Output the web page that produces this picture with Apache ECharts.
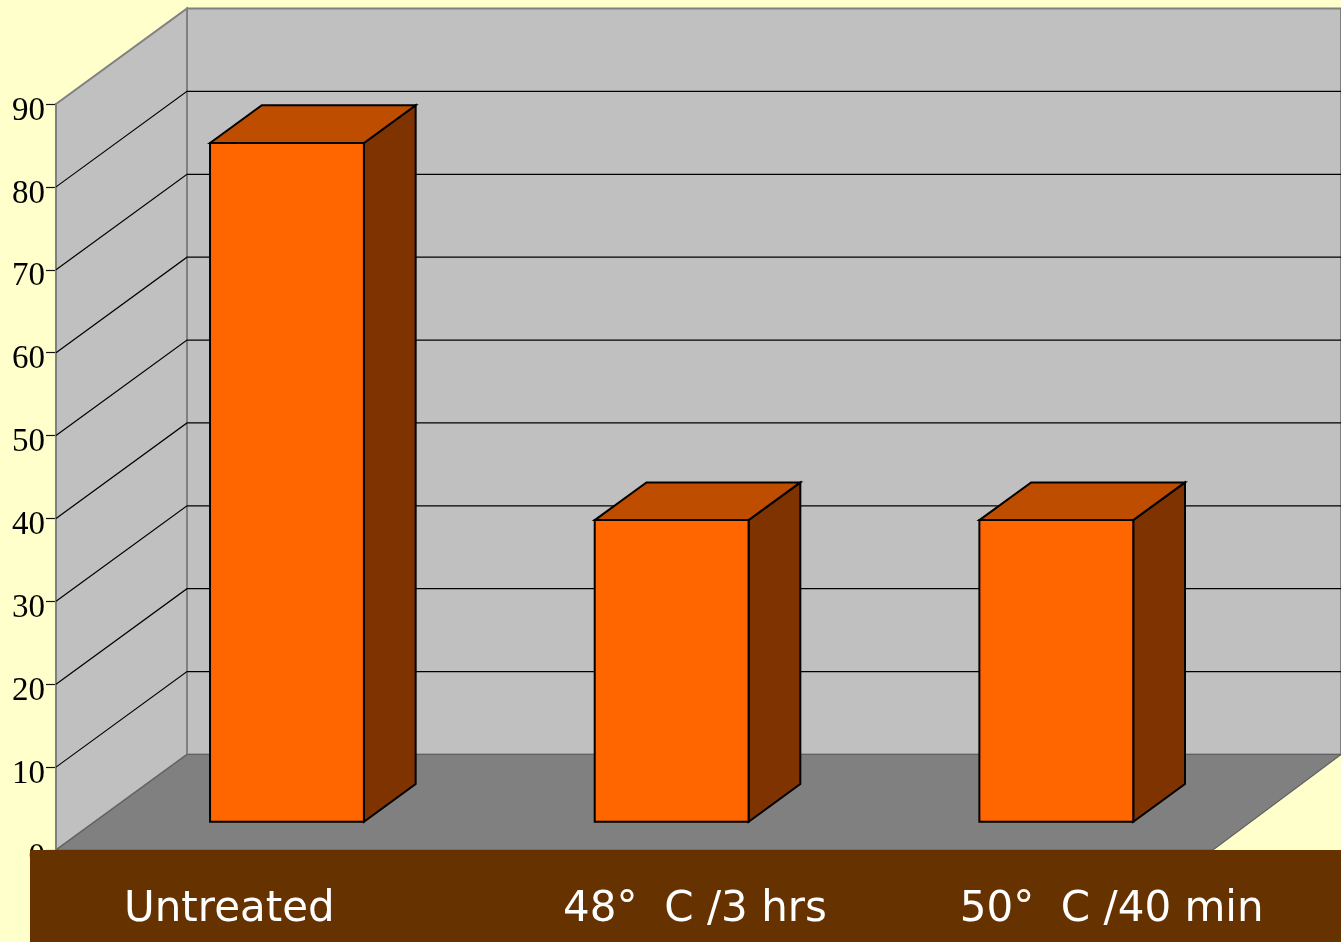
<!DOCTYPE html>
<html>
<head>
<meta charset="utf-8">
<style>html,body{margin:0;padding:0;background:#FFFFCC;}#c{width:1341px;height:942px;}</style>
<script src="https://cdn.jsdelivr.net/npm/echarts@6/dist/echarts.min.js"></script>
</head>
<body>
<div id="c"></div>
<script>
const categories = ['Untreated', '48°  C /3 hrs', '50°  C /40 min'];
const values = [81.9, 36.4, 36.4];
const gridTicks = [10, 20, 30, 40, 50, 60, 70, 80];
const labelShift = [-19, 62, 94];

const DX = 131, DY = 95.5, FRONT = 0.295, BACK = 0.69;
const chart = echarts.init(document.getElementById('c'), null, {renderer: 'canvas'});

function poly(points, fill, stroke, lw) {
  return {type: 'polygon', shape: {points}, style: {fill, stroke, lineWidth: lw, lineJoin: 'miter'}};
}

chart.setOption({
  animation: false,
  backgroundColor: '#FFFFCC',
  grid: {left: 56, top: 104, right: 131, bottom: 92, containLabel: false},
  tooltip: {show: false},
  xAxis: {type: 'category', data: categories, show: false},
  yAxis: {
    type: 'value', min: 0, max: 90, interval: 10,
    axisLine: {show: true, lineStyle: {color: '#555555', width: 2}},
    axisTick: {show: true, length: 10, lineStyle: {color: '#111111', width: 1.2}},
    splitLine: {show: false},
    axisLabel: {
      show: true, margin: 11, color: '#000000', fontFamily: 'Liberation Serif', fontSize: 33,
      verticalAlign: 'top', lineHeight: 14, hideOverlap: false, showMinLabel: true, showMaxLabel: true
    }
  },
  series: [
    {
      type: 'custom', name: 'walls', z: 1, silent: true, data: [[0, 0]],
      renderItem(params, api) {
        const c = params.coordSys, l = c.x, t = c.y, r = c.x + c.width, b = c.y + c.height;
        return {type: 'group', children: [
          poly([[l + DX, t - DY], [r + DX, t - DY], [r + DX, b - DY], [l + DX, b - DY]], '#C0C0C0', '#808080', 2),
          poly([[l, t], [l + DX, t - DY], [l + DX, b - DY], [l, b]], '#C0C0C0', '#808080', 2),
          poly([[l, b], [l + DX, b - DY], [r + DX, b - DY], [r + 3, b]], '#808080', '#606060', 1.2)
        ]};
      }
    },
    {
      type: 'custom', name: 'gridlines', z: 2, silent: true,
      data: gridTicks.map(v => [0, v]),
      renderItem(params, api) {
        const c = params.coordSys;
        const y = api.coord([0, api.value(1)])[1];
        return {type: 'polyline',
          shape: {points: [[c.x, y], [c.x + DX, y - DY], [c.x + c.width + DX, y - DY]]},
          style: {fill: null, stroke: '#000000', lineWidth: 1.2}};
      }
    },
    {
      type: 'custom', name: 'bars', z: 3, silent: true,
      data: values.map((v, i) => [i, v]),
      renderItem(params, api) {
        const i = api.value(0), v = api.value(1);
        const w = api.size([1, 0])[0] * 0.4;
        const base = api.coord([i, 0]), top = api.coord([i, v]);
        const x0 = base[0] + DX * FRONT - w / 2, x1 = x0 + w;
        const yB = base[1] - DY * FRONT, yT = top[1] - DY * FRONT;
        const ox = DX * (BACK - FRONT), oy = DY * (BACK - FRONT);
        return {type: 'group', children: [
          poly([[x1, yT], [x1 + ox, yT - oy], [x1 + ox, yB - oy], [x1, yB]], '#7F3300', '#000000', 2),
          poly([[x0, yT], [x0 + ox, yT - oy], [x1 + ox, yT - oy], [x1, yT]], '#BF4D00', '#000000', 2),
          poly([[x0, yT], [x1, yT], [x1, yB], [x0, yB]], '#FF6600', '#000000', 2)
        ]};
      }
    },
    {
      type: 'custom', name: 'band', z: 4, silent: true, data: [[0, 0]],
      renderItem(params, api) {
        const c = params.coordSys;
        return {type: 'rect', shape: {x: 30, y: c.y + c.height, width: 1311, height: 92}, style: {fill: '#663300'}};
      }
    },
    {
      type: 'custom', name: 'labels', z: 5, silent: true,
      data: categories.map((_, i) => [i, 0]),
      renderItem(params, api) {
        const i = api.value(0), p = api.coord([i, 0]);
        return {type: 'text', style: {
          text: categories[i], x: p[0] + labelShift[i], y: p[1] + 60,
          fill: '#FFFFFF', font: '42px "DejaVu Sans"', textAlign: 'center', textVerticalAlign: 'middle'
        }};
      }
    }
  ]
});
</script>
</body>
</html>
